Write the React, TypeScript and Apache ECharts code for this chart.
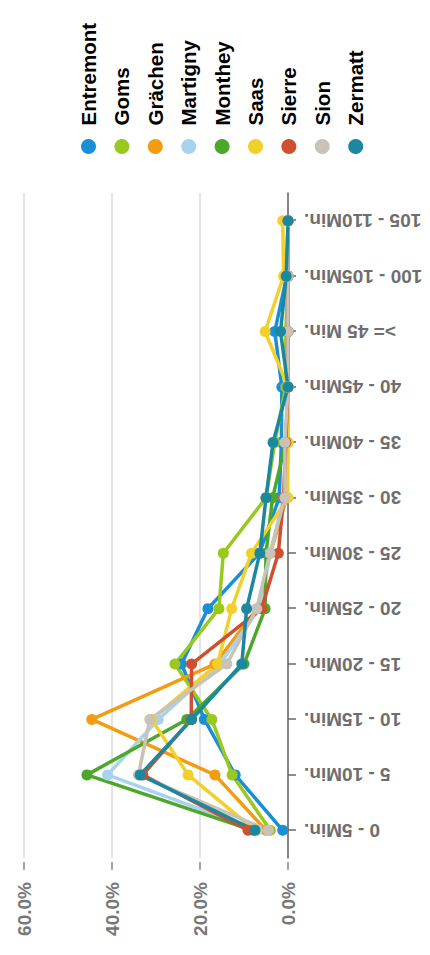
import React, { useEffect, useRef } from "react";
import * as echarts from "echarts";

const categories = [
  "0 - 5Min.",
  "5 - 10Min.",
  "10 - 15Min.",
  "15 - 20Min.",
  "20 - 25Min.",
  "25 - 30Min.",
  "30 - 35Min.",
  "35 - 40Min.",
  "40 - 45Min.",
  ">= 45 Min.",
  "100 - 105Min.",
  "105 - 110Min.",
];

const seriesNames = ["Entremont", "Goms", "Grächen", "Martigny", "Monthey", "Saas", "Sierre", "Sion", "Zermatt"];
const seriesColors = ["#1a8fd6", "#99c91e", "#f39c12", "#a8d3ef", "#4ca72a", "#f2d02b", "#cf5030", "#c9c2b6", "#1b889f"];

const entremont = [1.2, 12.0, 19.0, 24.2, 18.2, 6.5, 2.0, 1.5, 1.4, 3.0, 0.3, 0.0];
const goms = [4.0, 12.7, 17.3, 25.7, 15.7, 14.7, 5.0, 3.0, 0.5, 0.5, 0.0, 0.0];
const graechen = [5.0, 16.6, 44.6, 16.6, 7.0, 4.0, 0.3, 0.0, 0.0, 0.0, 0.0, 0.0];
const martigny = [7.0, 41.0, 29.5, 15.5, 6.5, 4.0, 1.0, 0.5, 0.0, 0.0, 0.0, 0.0];
const monthey = [8.0, 45.7, 23.0, 10.0, 5.2, 5.0, 3.5, 0.5, 0.0, 0.0, 0.0, 0.0];
const saas = [7.5, 22.7, 31.0, 16.0, 12.8, 8.3, 0.0, 0.0, 0.0, 5.2, 1.0, 1.2];
const sierre = [9.1, 33.0, 22.0, 21.9, 6.0, 2.2, 1.0, 0.5, 0.0, 0.0, 0.0, 0.0];
const sion = [4.5, 34.0, 31.4, 13.9, 7.1, 4.1, 0.7, 0.7, 0.0, 0.0, 0.0, 0.0];
const zermatt = [7.5, 33.6, 21.9, 10.5, 9.4, 6.4, 5.0, 3.4, 0.0, 1.7, 0.4, 0.0];

const seriesData = [entremont, goms, graechen, martigny, monthey, saas, sierre, sion, zermatt];

const valueTicks = { min: 0, max: 60, interval: 20 };

const FONT = "'Liberation Sans', Arial, sans-serif";

export default function App() {
  const ref = useRef<HTMLDivElement>(null);

  useEffect(() => {
    if (!ref.current) return;
    const chart = echarts.init(ref.current, undefined, { renderer: "svg" });
    chart.setOption({
      animation: false,
      backgroundColor: "#ffffff",
      grid: { left: 97, right: 193, top: 24, bottom: 142 },
      legend: {
        orient: "vertical",
        left: 796,
        top: 73,
        icon: "circle",
        itemWidth: 32,
        itemHeight: 15,
        itemGap: 12.4,
        data: seriesNames,
        textStyle: { fontSize: 20.5, fontWeight: "bold", color: "#000", fontFamily: FONT, lineHeight: 20 },
      },
      xAxis: {
        type: "category",
        data: categories,
        boundaryGap: true,
        axisLine: { show: true, lineStyle: { color: "#666", width: 1.5 } },
        axisTick: { show: true, alignWithLabel: true, length: 8, lineStyle: { color: "#666", width: 1.5 } },
        axisLabel: {
          rotate: 90,
          margin: 16,
          interval: 0,
          fontSize: 19,
          fontWeight: "bold",
          color: "#6e6e6e",
          fontFamily: FONT,
        },
        splitLine: { show: false },
      },
      yAxis: {
        type: "value",
        min: valueTicks.min,
        max: valueTicks.max,
        interval: valueTicks.interval,
        offset: 4,
        axisLine: { show: false },
        axisTick: { show: true, length: 8, lineStyle: { color: "#888", width: 1.5 } },
        axisLabel: {
          margin: 20,
          fontSize: 19,
          fontWeight: "bold",
          color: "#777",
          fontFamily: FONT,
          formatter: (v: number) => v.toFixed(1) + "%",
        },
        splitLine: { show: true, lineStyle: { color: "#e4e4e4", width: 2 } },
      },
      series: seriesNames.map((name, i) => ({
        name,
        type: "line",
        data: seriesData[i],
        symbol: "circle",
        symbolSize: 11,
        color: seriesColors[i],
        lineStyle: { width: 3.5, color: seriesColors[i] },
        itemStyle: { color: seriesColors[i] },
      })),
    });
    return () => chart.dispose();
  }, []);

  return (
    <div style={{ position: "absolute", left: 0, top: 0, width: 430, height: 955, overflow: "hidden", background: "#fff" }}>
      <div
        ref={ref}
        style={{
          position: "absolute",
          left: 0,
          top: 0,
          width: 955,
          height: 430,
          transformOrigin: "0 0",
          transform: "translateY(955px) rotate(-90deg)",
        }}
      />
    </div>
  );
}
